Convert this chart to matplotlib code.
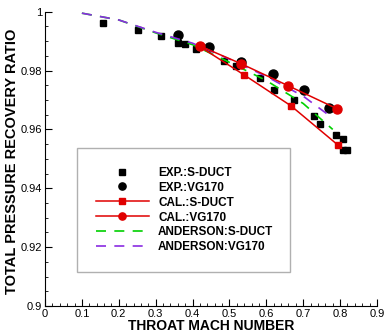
import matplotlib
matplotlib.use('Agg')
import matplotlib.pyplot as plt
from matplotlib.ticker import MultipleLocator, FuncFormatter

plt.rcParams['font.family'] = ['Liberation Sans', 'DejaVu Sans']

# experimental data
exp_sduct_x = [0.156, 0.252, 0.315, 0.360, 0.380, 0.409, 0.485, 0.518, 0.582, 0.620,
               0.674, 0.728, 0.746, 0.789, 0.807, 0.807, 0.818]
exp_sduct_y = [0.9962, 0.9939, 0.9918, 0.9895, 0.9890, 0.9872, 0.9834, 0.9817, 0.9774, 0.9735,
               0.9699, 0.9644, 0.9618, 0.9581, 0.9566, 0.9529, 0.9530]
exp_vg_x = [0.361, 0.444, 0.531, 0.619, 0.703, 0.771]
exp_vg_y = [0.9922, 0.9880, 0.9829, 0.9789, 0.9735, 0.9674]

# calculations
cal_sduct_x = [0.419, 0.540, 0.667, 0.794]
cal_sduct_y = [0.9882, 0.9785, 0.9680, 0.9547]
cal_vg_x = [0.419, 0.532, 0.660, 0.792]
cal_vg_y = [0.9884, 0.9823, 0.9748, 0.9670]

# Anderson correlation
and_x = [0.10, 0.20, 0.30, 0.40, 0.50, 0.60, 0.70, 0.78]
and_sduct_y = [0.9995, 0.9972, 0.9928, 0.9888, 0.9828, 0.9766, 0.9688, 0.9600]
and_vg_x = [0.10, 0.20, 0.30, 0.40, 0.50, 0.60, 0.70, 0.775]
and_vg_y = [0.9995, 0.9972, 0.9930, 0.9893, 0.9839, 0.9780, 0.9713, 0.9643]

fig = plt.figure(figsize=(3.85, 3.36), dpi=100)
ax = fig.add_axes([45 / 385, 1 - 306 / 336, 332 / 385, 294.3 / 336])

ax.plot(exp_sduct_x, exp_sduct_y, 's', color='black', ms=4.8, label='EXP.:S-DUCT', zorder=3)
ax.plot(exp_vg_x, exp_vg_y, 'o', color='black', ms=6.5, label='EXP.:VG170', zorder=3)
ax.plot(cal_sduct_x, cal_sduct_y, '-s', color='#e00000', ms=4.8, lw=1.1, label='CAL.:S-DUCT', zorder=5)
ax.plot(cal_vg_x, cal_vg_y, '-o', color='#e00000', ms=6.5, lw=1.1, label='CAL.:VG170', zorder=5)
ax.plot(and_x, and_sduct_y, color='#00d000', lw=1.2, dashes=(6, 5), label='ANDERSON:S-DUCT', zorder=4)
ax.plot(and_vg_x, and_vg_y, color='#8a2be2', lw=1.2, dashes=(6, 5), label='ANDERSON:VG170', zorder=4)

ax.set_xlim(0, 0.9)
ax.set_ylim(0.9, 1.0)
ax.spines['top'].set_visible(False)
ax.spines['right'].set_visible(False)
ax.xaxis.set_major_locator(MultipleLocator(0.1))
ax.xaxis.set_minor_locator(MultipleLocator(0.02))
ax.yaxis.set_major_locator(MultipleLocator(0.02))
ax.yaxis.set_minor_locator(MultipleLocator(0.005))
fmt = FuncFormatter(lambda v, p: '{:g}'.format(round(v, 3)))
ax.xaxis.set_major_formatter(fmt)
ax.yaxis.set_major_formatter(fmt)
ax.tick_params(which='major', direction='in', length=5, labelsize=8, pad=2)
ax.tick_params(which='minor', direction='in', length=2.5)

ax.set_xlabel('THROAT MACH NUMBER', fontsize=10, fontweight='bold', labelpad=0)
ax.set_ylabel('TOTAL PRESSURE RECOVERY RATIO', fontsize=10.5, fontweight='bold')
ax.yaxis.set_label_coords(-0.078, 0.49)

leg = ax.legend(loc='lower left', bbox_to_anchor=(0.0955, 0.1145, 0.6425, 0.4045), mode='expand',
                prop={'weight': 'bold', 'size': 8.5}, fancybox=False, edgecolor='#b0b0b0',
                framealpha=1, borderpad=1.6, handlelength=4.5, handletextpad=0.8,
                labelspacing=0.25, borderaxespad=0, markerscale=0.8)
leg.get_frame().set_linewidth(1.0)

fig.savefig('out.png', dpi=100)
